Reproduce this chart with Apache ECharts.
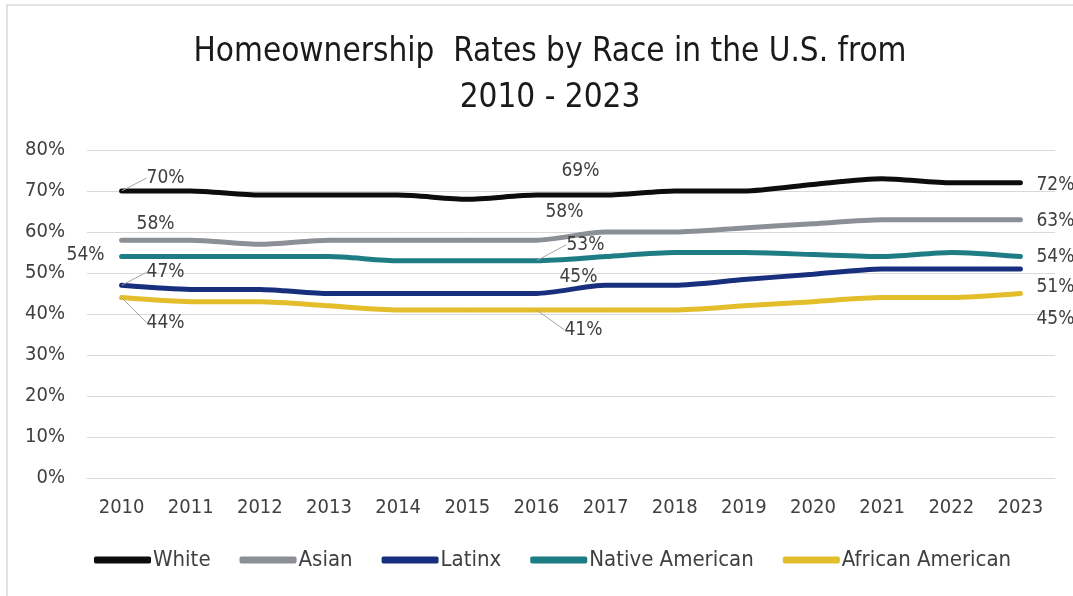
<!DOCTYPE html>
<html>
<head>
<meta charset="utf-8">
<script src="https://cdn.jsdelivr.net/npm/echarts@6/dist/echarts.min.js"></script>
<style>
html,body{margin:0;padding:0;background:#fff;}
#main{width:1073px;height:596px;}
</style>
</head>
<body>
<div id="main"></div>
<script>
var years = ['2010','2011','2012','2013','2014','2015','2016','2017','2018','2019','2020','2021','2022','2023'];
var white = [70,70,69,69,69,68,69,69,70,70,71.6,73,72,72];
var asian = [58,58,57,58,58,58,58,60,60,61,62,63,63,63];
var latinx = [47,46,46,45,45,45,45,47,47,48.4,49.7,51,51,51];
var nativeAm = [54,54,54,54,53,53,53,54,55,55,54.5,54,55,54];
var african = [44,43,43,42,41,41,41,41,41,42,43,44,44,45];
var yTicks = [0,10,20,30,40,50,60,70,80];

var FONT = "'Liberation Sans Narrow','DejaVu Sans Condensed','Liberation Sans',sans-serif";
var TXT = '#404040';

// label placements: [dx, dy] offsets of label centre from the point, and whether a leader line is shown
var labelSpec = {
  White:   {0:[44,-13,true], 6:[44,-24,false], 13:[35,2,false]},
  Asian:   {0:[34,-16,false], 6:[28,-28,false], 13:[35,1,false]},
  Latinx:  {0:[44,-13,true], 6:[42,-16,false], 13:[35,18,false]},
  'Native American': {0:[-36,-2,false], 6:[49,-16,true], 13:[35,0,false]},
  'African American': {0:[44,25,true], 6:[47,20,true], 13:[35,26,false]}
};

function buildData(name, vals){
  var spec = labelSpec[name];
  return vals.map(function(v,i){
    var s = spec[i];
    if(!s) return v;
    return {
      value: v,
      label: {show:true, position:'inside', offset:[0,0], formatter: Math.round(v)+'%',
              color:TXT, fontSize:19, fontFamily:FONT},
      labelLine: {show: s[2], lineStyle:{color:'#a6a6a6', width:1}}
    };
  });
}

function makeSeries(name, vals, color){
  return {
    name: name, type:'line', data: buildData(name, vals), smooth:0.25,
    symbol:'circle', symbolSize:1, showSymbol:true,
    lineStyle:{color:color, width:5, cap:'round'},
    itemStyle:{color:color},
    labelLayout: function(p){
      var s = labelSpec[name][p.dataIndex];
      if(!s) return {};
      return {dx:s[0], dy:s[1]};
    },
    emphasis:{disabled:true},
    z: 3
  };
}

var chart = echarts.init(document.getElementById('main'), null, {renderer:'canvas'});
chart.setOption({
  animation:false,
  backgroundColor:'#fff',
  graphic:[{type:'polyline', shape:{points:[[7,596],[7,5],[1073,5]]}, style:{stroke:'#d9d9d9', lineWidth:1.5, fill:null}, silent:true}],
  title:{
    text:'Homeownership  Rates by Race in the U.S. from\n2010 - 2023',
    left:545, top:24, textAlign:'center',
    textStyle:{fontFamily:FONT, fontSize:33, fontWeight:'normal', color:'#1a1a1a', lineHeight:46}
  },
  legend:{
    bottom:20, left:89, itemWidth:57, itemHeight:7, itemGap:29,
    icon:'roundRect',
    textStyle:{fontFamily:FONT, fontSize:22, color:TXT, padding:[0,0,0,-3]},
    data:['White','Asian','Latinx','Native American','African American']
  },
  grid:{left:87, right:18, top:150, bottom:118, containLabel:false},
  xAxis:{
    type:'category', data:years, boundaryGap:true,
    axisLine:{show:true, lineStyle:{color:'#d9d9d9'}},
    axisTick:{show:false},
    axisLabel:{fontFamily:FONT, fontSize:20, color:TXT, margin:20}
  },
  yAxis:{
    type:'value', min:0, max:80, interval:10,
    axisLine:{show:false}, axisTick:{show:false},
    splitLine:{lineStyle:{color:'#d9d9d9', width:1}},
    axisLabel:{fontFamily:FONT, fontSize:20, color:TXT, margin:22,
      formatter:function(v){ return yTicks.indexOf(v)>=0 ? v+'%' : ''; }}
  },
  series:[
    makeSeries('White', white, '#0d0d0d'),
    makeSeries('Asian', asian, '#8b8f96'),
    makeSeries('Latinx', latinx, '#172f7d'),
    makeSeries('Native American', nativeAm, '#1e7d84'),
    makeSeries('African American', african, '#e3bd2a')
  ]
});
</script>
</body>
</html>
